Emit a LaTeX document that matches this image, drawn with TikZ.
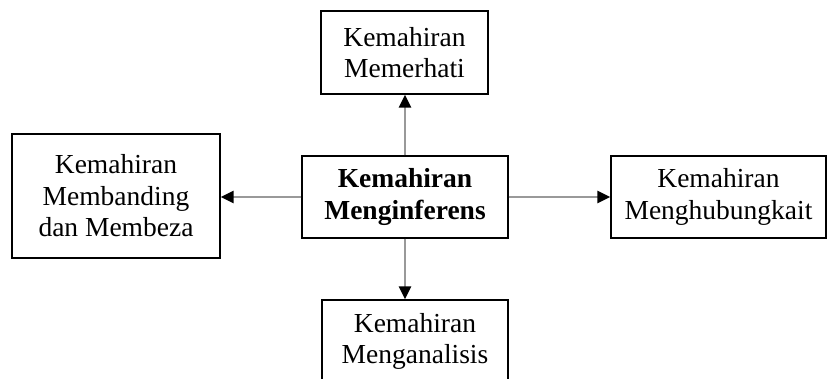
\documentclass[tikz,border=0pt]{standalone}
\usepackage{fontspec}
\setmainfont{Liberation Serif}
\usetikzlibrary{arrows.meta}
\begin{document}
\begin{tikzpicture}[x=1pt,y=-1pt,
  box/.style={draw=black,line width=1.3pt,fill=white,align=center,inner sep=0pt,
    font=\fontsize{27.5}{31.5}\selectfont},
  conn/.style={draw=black!40,line width=2.6pt,
    -{Triangle[length=13pt,width=12pt,color=black]}}]
\useasboundingbox (0,0) rectangle (828,379);
\clip (0,0) rectangle (828,379);
\node[box,minimum width=167pt,minimum height=83pt] (top) at (404.5,52.5) {Kemahiran\\Memerhati};
\node[box,minimum width=208pt,minimum height=124pt] (left) at (116,196) {Kemahiran\\Membanding\\dan Membeza};
\node[box,minimum width=206pt,minimum height=82pt,font=\fontsize{27.5}{31.5}\selectfont\bfseries] (center) at (405,197) {Kemahiran\\Menginferens};
\node[box,minimum width=215pt,minimum height=82pt] (right) at (718.5,197) {Kemahiran\\Menghubungkait};
\node[box,minimum width=186pt,minimum height=83pt] (bottom) at (415,341.5) {Kemahiran\\Menganalisis};
\draw[conn] (center.north) -- (center.north |- top.south);
\draw[conn] (center.south) -- (center.south |- bottom.north);
\draw[conn] (center.west) -- (left.east |- center.west);
\draw[conn] (center.east) -- (right.west);
\end{tikzpicture}
\end{document}
